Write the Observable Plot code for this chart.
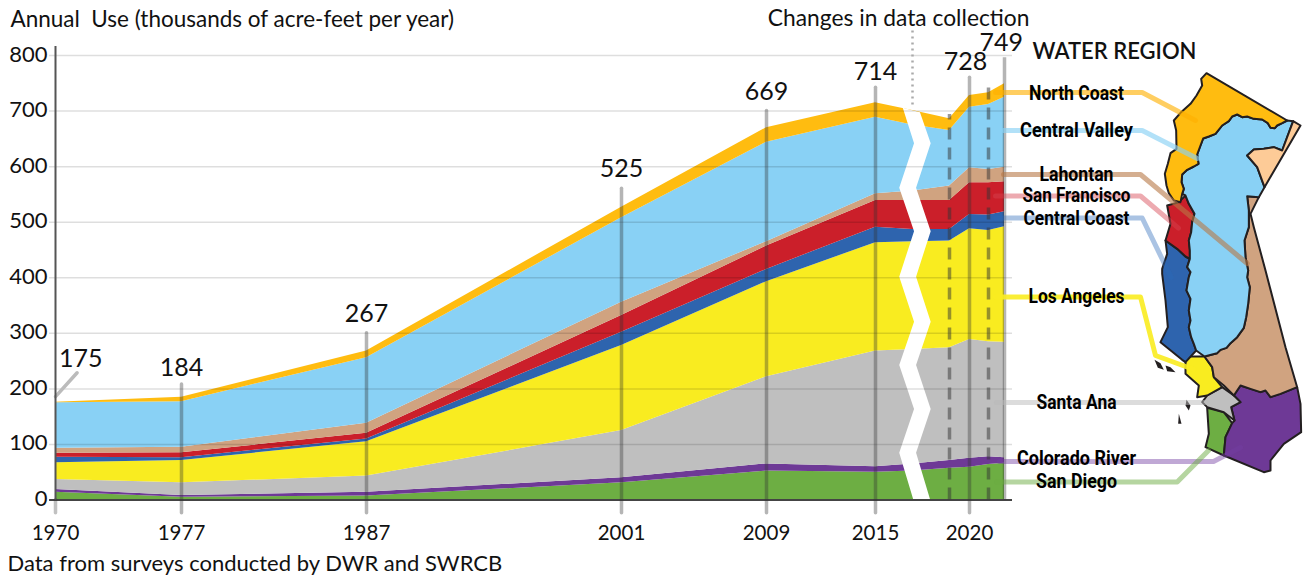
<!DOCTYPE html>
<html><head><meta charset="utf-8">
<script src="https://cdn.jsdelivr.net/npm/d3@7"></script>
<script src="https://cdn.jsdelivr.net/npm/@observablehq/plot@0.6"></script>
<style>
html,body{margin:0;padding:0;background:#fff}
#wrap{position:relative;width:1304px;height:578px;overflow:hidden}
#wrap svg{position:absolute;left:0;top:0;background:transparent}
</style></head><body><div id="wrap"></div>
<script>
const years=[1970,1977,1987,2001,2009,2015,2017,2019,2020,2021,2022];
const regions=["San Diego","Colorado River","Santa Ana","Los Angeles","Central Coast","San Francisco","Lahontan","Central Valley","North Coast"];
const regionColors=["#6dae43","#6e3996","#bfbfbf","#f9ec20","#2e64ae","#cb1f2a","#d0a380","#89d1f5","#ffbc10"];
const sanDiego=[14,5,7,31,52,50,52,57,59,64,66];
const coloradoRiver=[5,3,7,9,13,10,13,14,16,14,10];
const santaAna=[18,23,29,85,157,208,206,203,214,207,208];
const losAngeles=[30,40,62,153,171,195,194,192,199,200,208];
const centralCoast=[10,5,5,24,22,28,22,21,26,28,27];
const sanFrancisco=[7,9,10,30,42,48,52,52,57,58,54];
const lahontan=[9,10,18,24,8,12,17,26,27,24,26];
const centralValley=[82,82,118,152,179,138,119,100,109,117,126];
const northCoast=[1,8,12,19,26,26,26,21,21,21,24];
const seriesValues=[sanDiego,coloradoRiver,santaAna,losAngeles,centralCoast,sanFrancisco,lahontan,centralValley,northCoast];

const labelYears=[1970,1977,1987,2001,2009,2015,2020,2022];
const labelTotals=[175,184,267,525,669,714,728,749];
const labelTops=[186,208,300,560,700,742,760,796];
const labelAnchorYears=[1971.4,1977,1987,2001,2009,2015,2019.8,2021.8];
const labelAnchorValues=[254,238,335,596,734,770,789,823];
const yTicks=[0,100,200,300,400,500,600,700,800];
const xTicks=[1970,1977,1987,2001,2009,2015,2020];
const xDomain=[1970,1977,1987,2001,2009,2015,2019,2020,2021,2022];
const xRange=[55,181,366,621,766,875,949,969,988,1004];
const dashedYears=[2019,2021];
const dashedTops=[694,754];
const breakLeft=[[2017.06,1],[2016.31,84],[2017.11,163],[2016.31,242],[2017.11,320],[2016.31,401],[2017.11,483],[2016.31,561],[2017.11,641],[2016.5,705]];
const breakRight=[[2017.97,1],[2017.22,84],[2018.01,163],[2017.22,242],[2018.01,320],[2017.22,401],[2018.01,483],[2017.22,561],[2018.01,641],[2017.43,697]];

const stackRows=regions.flatMap((region,r)=>years.map((year,i)=>({year,region,value:seriesValues[r][i]})));
const textFont="Lato, 'Open Sans', sans-serif";
const warpYear=d3.scaleLinear().domain(xDomain).range(xRange);

const chart=Plot.plot({
  width:1304,height:578,marginLeft:55,marginRight:300,marginTop:55,marginBottom:78.5,
  style:{fontFamily:textFont,background:"transparent",overflow:"visible"},
  x:{transform:warpYear,domain:[55,1004],label:null,axis:null},
  y:{domain:[0,800],label:null},
  color:{domain:regions,range:regionColors},
  marks:[
    Plot.areaY(stackRows,{x:"year",y:"value",fill:"region",z:"region"}),
    Plot.area(breakLeft.map((d,i)=>({x1:d[0],y1:d[1],x2:breakRight[i][0],y2:breakRight[i][1]})),{x1:"x1",y1:"y1",x2:"x2",y2:"y2",fill:"#fff"}),
    Plot.ruleY(yTicks.slice(1),{x1:1969.67,x2:2022.5,stroke:"#000",strokeOpacity:0.13,strokeWidth:1.5}),
    Plot.ruleY([0],{x1:1969.67,x2:2022.5,stroke:"#444",strokeWidth:2}),
    Plot.link(labelYears.slice(0,1),{x1:d=>d,x2:1971.2,y1:186,y2:229,stroke:"#bbb",strokeWidth:3.5,strokeLinecap:"round"}),
    Plot.ruleX(labelYears.slice(1,7),{x:d=>d,y1:-24,y2:(d,i)=>labelTops[i+1],stroke:"#333",strokeOpacity:0.36,strokeWidth:3.5,strokeLinecap:"round"}),
    Plot.ruleX([2022],{y1:0,y2:796,stroke:"#333",strokeOpacity:0.36,strokeWidth:3.5}),
    Plot.ruleX([1970],{y1:-24,y2:0,stroke:"#333",strokeOpacity:0.3,strokeWidth:3.5,strokeLinecap:"round"}),
    Plot.ruleX([1970],{y1:0,y2:816,stroke:"#555",strokeWidth:2}),
    Plot.ruleX(dashedYears,{x:d=>d,y1:0,y2:(d,i)=>dashedTops[i],stroke:"#333",strokeOpacity:0.5,strokeWidth:3.5,strokeDasharray:"12 8"}),
    Plot.ruleX([2017],{y1:711,y2:845,stroke:"#aaa",strokeWidth:2.5,strokeDasharray:"2 4"}),
    Plot.text(labelTotals,{x:(d,i)=>labelAnchorYears[i],y:(d,i)=>labelAnchorValues[i],text:d=>String(d),fontSize:25,fill:"#111",textAnchor:"middle",lineAnchor:"middle"}),
    Plot.axisY({ticks:yTicks,tickSize:0,tickPadding:8,fontSize:22,label:null,tickFormat:d=>String(d),fill:"#111",marginLeft:55,dy:-1}),
    Plot.text(xTicks,{x:d=>d,y:-60,text:d=>String(d),fontSize:20.5,fill:"#111",textAnchor:"middle",lineAnchor:"middle"})
  ]
});

// ---- map of water regions, traced in map units ----
const arcNorth=[[620,210],[605,218],[590,225],[583,233],[570,232],[562,218],[545,207],[520,205],[500,198],[485,200],[470,192],[455,198],[445,212],[425,225],[405,250],[385,258],[368,264],[360,285],[350,312],[354,340],[340,348],[320,358],[305,372],[303,395],[310,415],[305,430]];
const arcWest=[[315,435],[325,460],[342,490],[335,515],[332,545],[325,570],[328,600],[328,625],[320,650],[330,665],[325,680],[318,720],[330,745],[325,780],[330,810],[325,830],[332,860],[340,880],[347,900]];
const arcEast=[[500,437],[505,480],[505,530],[492,570],[495,620],[503,660],[500,680],[508,710],[503,760],[497,800],[490,832],[470,860],[450,878],[438,892],[420,898],[410,908],[395,912],[372,918]];
const arcTahoe=[[638,212],[605,300],[580,290],[550,295],[520,297],[500,315],[530,350],[552,410],[535,440]];
const rev=a=>[...a].reverse();
const northCoastShape=[[378,68],...arcNorth,[300,455],[280,450],[265,428],[258,405],[253,370],[262,340],[270,308],[288,295],[287,240],[280,210],[300,187],[330,160],[348,135],[365,105],[362,85]];
const centralValleyShape=[[620,210],...arcTahoe,...arcEast,...rev(arcWest),...rev(arcNorth)];
const tahoeShape=[...arcTahoe.slice(0,8),[660,225]];
const lahontanShape=[...arcEast,[395,950],[400,980],[430,1005],[460,1035],[480,1005],[510,1015],[540,1025],[555,1020],[570,1040],[600,1030],[650,1010],[615,890],[555,660],[520,530],[510,490],[535,440]];
const sanFranciscoShape=[...arcWest.slice(0,8),[315,618],[290,595],[255,570],[270,520],[260,465],[295,455]];
const centralCoastShape=[[255,570],[290,595],[315,618],...arcWest.slice(7),[315,935],[305,928],[240,875],[262,830],[255,750],[245,670],[245,655],[260,610]];
const losAngelesShape=[[315,918],[345,918],[372,918],[395,950],[400,980],[425,1010],[380,1035],[350,1040],[355,1005],[315,970]];
const santaAnaShape=[[425,1010],[460,1035],[480,1055],[452,1070],[462,1110],[430,1085],[380,1070],[365,1055],[380,1035]];
const sanDiegoShape=[[380,1072],[430,1085],[455,1118],[435,1160],[430,1215],[375,1190],[385,1150]];
const coloradoShape=[[460,1035],[480,1005],[510,1015],[540,1025],[555,1020],[570,1040],[600,1030],[650,1010],[660,1060],[662,1145],[610,1180],[570,1230],[570,1260],[550,1265],[430,1215],[435,1160],[455,1118],[462,1110],[452,1070],[480,1055]];
const islands=[[[222,928],[240,938],[250,958],[232,952]],[[255,945],[270,950],[285,965],[260,962]],[[318,1048],[330,1065],[325,1080],[315,1065]],[[295,1090],[303,1120],[293,1120]]];
const regionShapes=[sanDiegoShape,coloradoShape,santaAnaShape,losAngelesShape,centralCoastShape,sanFranciscoShape,lahontanShape,centralValleyShape,northCoastShape];
const toFeature=(ring,fill)=>({type:"Feature",properties:{fill},geometry:{type:"Polygon",coordinates:[[...ring,ring[0]]]}});
const mapFeatures=regionShapes.map((s,i)=>toFeature(s,regionColors[i])).concat([toFeature(tahoeShape,"#fdcb97")]);
const islandFeatures=islands.map(s=>toFeature(s,"#231f20"));

// leader lines and labels, given in page pixels then taken to map units
const mapX=x=>(x-1080)*3, mapY=y=>(y-50)*3;
const leaderNames=["North Coast","Central Valley","Lahontan","San Francisco","Central Coast","Los Angeles","Santa Ana","Colorado River","San Diego"];
const leaderColors=["#ffb000","#89d1f5","#b77846","#d74250","#2a69b9","#f9ec20","#b9b9b9","#733ea2","#6cac42"];
const leaderOpacity=[0.62,0.65,0.6,0.45,0.4,0.9,0.5,0.45,0.5];
const labelWidths=[95,113,74,108,106,96,80,119,81];
const leaderPaths=[
 [[995,92],[1141.7,92],[1195,120]],
 [[1003,130],[1141.7,130],[1196.7,158]],
 [[1003,174],[1140,174],[1246.7,263]],
 [[995,195.5],[1140,195.5],[1178,227.7]],
 [[995,217.5],[1141.7,217.5],[1170.7,277]],
 [[995,296.5],[1140,296.5],[1155,355],[1193.3,369]],
 [[996,402],[1206.7,402]],
 [[999,461],[1213,461],[1240,447]],
 [[996,481.5],[1176.7,481.5],[1208,450]]
];
const labelYPx=[92.5,129.5,173.5,194.5,217.5,295.5,401.5,457.5,480.5];
const leaderFeatures=leaderPaths.map(p=>({type:"Feature",geometry:{type:"LineString",coordinates:p.map(([x,y])=>[mapX(x),mapY(y)])}}));

const map=Plot.plot({
  width:1304,height:578,margin:0,
  projection:d3.geoIdentity().scale(1/3).translate([1080,50]),
  style:{background:"transparent",fontFamily:textFont},
  marks:[
    Plot.geo(mapFeatures,{fill:d=>d.properties.fill,stroke:"#231f20",strokeWidth:2,strokeLinejoin:"round"}),
    Plot.geo(islandFeatures,{fill:"#231f20"}),
    leaderFeatures.map((f,i)=>Plot.geo([f],{stroke:leaderColors[i],fill:"none",strokeOpacity:leaderOpacity[i],strokeWidth:5,strokeLinecap:"round",strokeLinejoin:"round"})),
    Plot.text(leaderNames,{x:()=>mapX(1076),y:(d,i)=>mapY(labelYPx[i]),text:d=>d,className:"regionlabel",fontFamily:"Roboto, sans-serif",fontWeight:700,fontSize:20.5,fill:"#000",textAnchor:"middle",lineAnchor:"middle"}),
    Plot.text(["WATER REGION"],{x:()=>mapX(1032),y:()=>mapY(51),text:d=>d,fontSize:22,fontWeight:600,fill:"#111",textAnchor:"start",lineAnchor:"middle"}),
    Plot.text(["Annual  Use (thousands of acre-feet per year)"],{x:()=>mapX(10),y:()=>mapY(19),text:d=>d,fontSize:22.5,fill:"#111",textAnchor:"start",lineAnchor:"middle"}),
    Plot.text(["Changes in data collection"],{x:()=>mapX(1029),y:()=>mapY(18.5),text:d=>d,fontSize:22.8,fill:"#111",textAnchor:"end",lineAnchor:"middle"}),
    Plot.text(["Data from surveys conducted by DWR and SWRCB"],{x:()=>mapX(7),y:()=>mapY(563),text:d=>d,fontSize:22,fill:"#111",textAnchor:"start",lineAnchor:"middle"})
  ]
});
// region labels are a condensed face in the reference: squeeze the glyphs to the measured widths
map.querySelectorAll(".regionlabel text").forEach((t,i)=>{
  t.setAttribute("textLength",labelWidths[i]);
  t.setAttribute("lengthAdjust","spacingAndGlyphs");
});
const wrap=document.getElementById("wrap");
wrap.appendChild(chart);wrap.appendChild(map);
</script></body></html>
